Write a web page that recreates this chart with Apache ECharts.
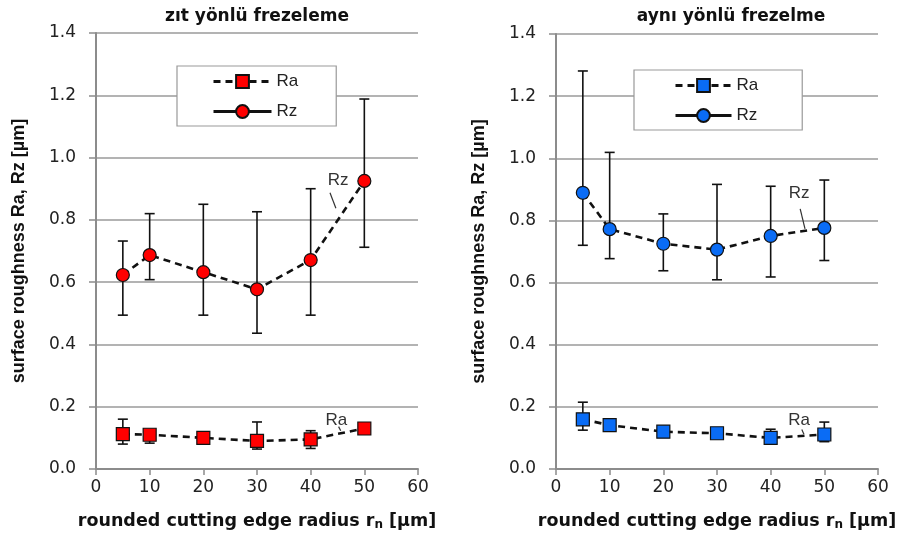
<!DOCTYPE html>
<html><head><meta charset="utf-8">
<script src="https://cdn.jsdelivr.net/npm/echarts@6/dist/echarts.min.js"></script>
<style>html,body{margin:0;padding:0;background:#fff}#c{width:900px;height:541px}</style>
</head><body><div id="c"></div>
<script>
// ---- data ----
const radius = [5, 10, 20, 30, 40, 50];
const xTicks = [0, 10, 20, 30, 40, 50, 60];
const yTicks = [0.0, 0.2, 0.4, 0.6, 0.8, 1.0, 1.2, 1.4];
const titles = ['zıt yönlü frezeleme', 'aynı yönlü frezelme'];

// left panel (zıt yönlü)
const raL = [0.112, 0.110, 0.100, 0.090, 0.095, 0.130];
const raL_lo = [0.080, 0.083, 0.090, 0.064, 0.066, 0.120];
const raL_hi = [0.160, 0.125, 0.110, 0.151, 0.123, 0.140];
const rzL = [0.623, 0.687, 0.632, 0.577, 0.671, 0.925];
const rzL_lo = [0.494, 0.608, 0.494, 0.436, 0.494, 0.712];
const rzL_hi = [0.732, 0.820, 0.850, 0.826, 0.900, 1.188];

// right panel (aynı yönlü)
const raR = [0.160, 0.141, 0.120, 0.115, 0.100, 0.111];
const raR_lo = [0.125, 0.131, 0.110, 0.105, 0.085, 0.088];
const raR_hi = [0.215, 0.151, 0.130, 0.125, 0.128, 0.151];
const rzR = [0.889, 0.772, 0.725, 0.706, 0.750, 0.776];
const rzR_lo = [0.720, 0.677, 0.638, 0.609, 0.618, 0.671];
const rzR_hi = [1.281, 1.019, 0.821, 0.916, 0.910, 0.930];

// annotations: [panel, label, textX, textY, leaderX1, leaderY1, leaderX2, leaderY2] in data units
const notes = [
  [0, 'Rz', 45.1, 0.928, 43.6, 0.887, 44.7, 0.837],
  [0, 'Ra', 44.8, 0.157, 45.2, 0.136, 45.6, 0.123],
  [1, 'Rz', 45.3, 0.887, 45.5, 0.837, 46.4, 0.773],
  [1, 'Ra', 45.3, 0.157, 45.8, 0.127, 46.2, 0.112]
];

const RED = '#ff0000', BLUE = '#0a6cf5';
const FONT = 'Liberation Sans, Arial, sans-serif';
const WIDE = 'DejaVu Sans, Liberation Sans, sans-serif';
const pts = (ys) => radius.map((x, i) => [x, ys[i]]);
const errs = (lo, hi) => radius.map((x, i) => [x, lo[i], hi[i]]);

function errSeries(name, idx, lo, hi, cap) {
  return {
    type: 'custom', name: name, xAxisIndex: idx, yAxisIndex: idx, z: 1, silent: true,
    data: errs(lo, hi),
    renderItem: function (params, api) {
      const x = api.value(0);
      const p1 = api.coord([x, api.value(1)]);
      const p2 = api.coord([x, api.value(2)]);
      const st = { stroke: '#111', lineWidth: 1.6 };
      return { type: 'group', children: [
        { type: 'line', shape: { x1: p1[0], y1: p1[1], x2: p2[0], y2: p2[1] }, style: st },
        { type: 'line', shape: { x1: p1[0] - cap, y1: p1[1], x2: p1[0] + cap, y2: p1[1] }, style: st },
        { type: 'line', shape: { x1: p2[0] - cap, y1: p2[1], x2: p2[0] + cap, y2: p2[1] }, style: st }
      ]};
    }
  };
}
function lineSeries(name, idx, ys, symbol, color) {
  return {
    type: 'line', name: name, xAxisIndex: idx, yAxisIndex: idx, z: 3,
    data: pts(ys), symbol: symbol, symbolSize: 13,
    lineStyle: { color: '#111', width: 2.6, type: [7, 5] },
    itemStyle: { color: color, borderColor: '#111', borderWidth: 1.2 },
    color: color
  };
}

const grids = [
  { left: 96, top: 33, width: 322, height: 436 },
  { left: 556, top: 34, width: 322, height: 435 }
];
const xAxes = [0, 1].map(i => ({
  type: 'value', gridIndex: i, min: xTicks[0], max: xTicks[xTicks.length - 1], interval: 10,
  name: '{b|rounded cutting edge radius r}{s|n}{b| [µm]}',
  nameLocation: 'middle', nameGap: 42,
  nameTextStyle: { rich: {
    b: { fontFamily: WIDE, fontWeight: 'bold', fontSize: 17.5, color: '#111' },
    s: { fontFamily: WIDE, fontWeight: 'bold', fontSize: 12, color: '#111', verticalAlign: 'bottom', padding: [8, 0, 0, 0] }
  }},
  axisLine: { lineStyle: { color: '#8c8c8c', width: 2 } },
  axisTick: { show: true, length: 6, inside: false, lineStyle: { color: '#8c8c8c', width: 1.5 } },
  axisLabel: { fontFamily: WIDE, fontSize: 17, color: '#222', margin: 10 },
  splitLine: { show: false }
}));
const yAxes = [0, 1].map(i => ({
  type: 'value', gridIndex: i, min: yTicks[0], max: yTicks[yTicks.length - 1], interval: 0.2,
  name: 'surface roughness Ra, Rz [µm]', nameLocation: 'middle', nameGap: 68,
  nameTextStyle: { fontFamily: FONT, fontWeight: 'bold', fontSize: 18, color: '#111' },
  axisLine: { show: true, lineStyle: { color: '#8c8c8c', width: 2 } },
  axisTick: { show: true, length: 7, lineStyle: { color: '#8c8c8c', width: 1.5 } },
  axisLabel: { fontFamily: WIDE, fontSize: 17, color: '#222', margin: 20, formatter: v => v.toFixed(1) },
  splitLine: { show: true, lineStyle: { color: '#9a9a9a', width: 1.5 } }
}));

function legendFor(i, left, top, padding, iw) {
  const n = i === 0 ? '_L' : '_R';
  return {
    orient: 'vertical', left: left, top: top, padding: padding,
    itemWidth: iw, itemHeight: 16, itemGap: 13,
    backgroundColor: '#fff', borderColor: '#999', borderWidth: 1.2, borderRadius: 0,
    textStyle: { fontFamily: FONT, fontSize: 17, color: '#222' },
    formatter: name => name.split('_')[0],
    data: [{ name: 'Ra' + n }, { name: 'Rz' + n, lineStyle: { type: 'solid', width: 3 } }],
    lineStyle: { width: 3 },
    selectedMode: false
  };
}

const option = {
  animation: false,
  textStyle: { fontFamily: FONT },
  title: [
    { text: titles[0], left: 252, textAlign: 'center', top: 3, textStyle: { fontFamily: WIDE, fontWeight: 'bold', fontSize: 17, color: '#111' } },
    { text: titles[1], left: 726, textAlign: 'center', top: 3, textStyle: { fontFamily: WIDE, fontWeight: 'bold', fontSize: 17, color: '#111' } }
  ],
  grid: grids,
  xAxis: xAxes,
  yAxis: yAxes,
  legend: [
    legendFor(0, 177, 66, [7, 38, 6, 35], 58),
    legendFor(1, 634, 70, [7, 44, 6, 40], 56)
  ],
  series: [
    errSeries('eRaL', 0, raL_lo, raL_hi, 5),
    errSeries('eRzL', 0, rzL_lo, rzL_hi, 5),
    errSeries('eRaR', 1, raR_lo, raR_hi, 5),
    errSeries('eRzR', 1, rzR_lo, rzR_hi, 5),
    lineSeries('Ra_L', 0, raL, 'rect', RED),
    lineSeries('Rz_L', 0, rzL, 'circle', RED),
    lineSeries('Ra_R', 1, raR, 'rect', BLUE),
    lineSeries('Rz_R', 1, rzR, 'circle', BLUE)
  ]
};

const chart = echarts.init(document.getElementById('c'), null, { renderer: 'canvas' });
chart.setOption(option);

const gfx = [];
notes.forEach(n => {
  const g = { gridIndex: n[0] };
  const t = chart.convertToPixel(g, [n[2], n[3]]);
  const a = chart.convertToPixel(g, [n[4], n[5]]);
  const b = chart.convertToPixel(g, [n[6], n[7]]);
  gfx.push({ type: 'text', x: t[0], y: t[1], z: 10, style: { text: n[1], fontFamily: FONT, fontSize: 17, fill: '#333', align: 'center', verticalAlign: 'middle' } });
  gfx.push({ type: 'line', z: 10, shape: { x1: a[0], y1: a[1], x2: b[0], y2: b[1] }, style: { stroke: '#333', lineWidth: 1.2 } });
});
chart.setOption({ graphic: gfx });
</script>
</body></html>
